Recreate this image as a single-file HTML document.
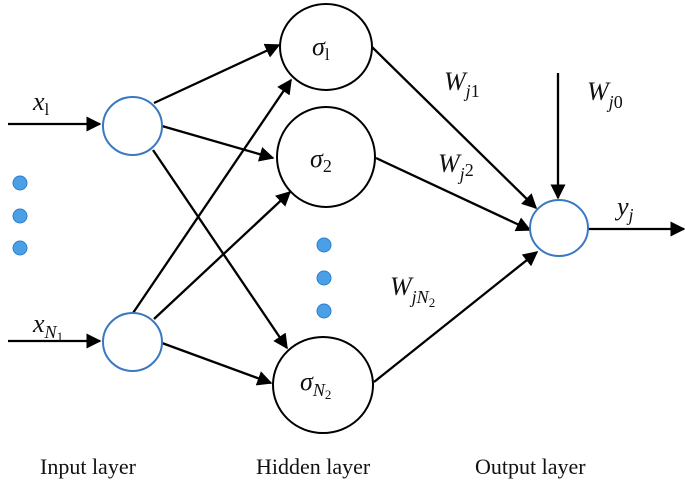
<!DOCTYPE html>
<html><head><meta charset="utf-8"><style>
html,body{margin:0;padding:0;background:#fff}
svg{display:block}
text{font-family:"Liberation Serif","DejaVu Serif",serif;fill:#111}
.i{font-style:italic}
</style></head><body>
<svg width="685" height="484" viewBox="0 0 685 484">
<defs>
<marker id="b" viewBox="0 0 10 10" refX="9" refY="5" markerWidth="15" markerHeight="15" markerUnits="userSpaceOnUse" orient="auto">
<path d="M0,0 L10,5 L0,10 z" fill="#000"/></marker>
</defs>
<g stroke="#000" stroke-width="2.3" fill="none" marker-end="url(#b)">
<line x1="8" y1="124" x2="100" y2="124"/>
<line x1="8" y1="341" x2="100" y2="341"/>
<line x1="588" y1="229" x2="684" y2="229"/>
<line x1="558" y1="73" x2="558" y2="198"/>
<line x1="154" y1="103" x2="279" y2="45"/>
<line x1="162" y1="126" x2="273" y2="158"/>
<line x1="153" y1="150" x2="287" y2="348"/>
<line x1="133" y1="313" x2="291" y2="80"/>
<line x1="154" y1="319" x2="290" y2="192"/>
<line x1="162" y1="343" x2="271" y2="383"/>
<line x1="372" y1="47" x2="536" y2="208"/>
<line x1="376" y1="158" x2="530" y2="230"/>
<line x1="374" y1="382" x2="537" y2="252"/>
</g>
<g fill="#fff" stroke-width="2">
<ellipse cx="132.5" cy="126" rx="29.5" ry="29" stroke="#3a78c0"/>
<ellipse cx="132.5" cy="342" rx="29.5" ry="29" stroke="#3a78c0"/>
<ellipse cx="559" cy="228" rx="29" ry="28" stroke="#3a78c0"/>
<ellipse cx="326" cy="47" rx="46" ry="43" stroke="#000"/>
<ellipse cx="326" cy="157" rx="49" ry="50" stroke="#000"/>
<ellipse cx="323" cy="385" rx="50" ry="48" stroke="#000"/>
</g>
<g fill="#4a9fe6" stroke="#2f7fcc" stroke-width="1">
<circle cx="20" cy="183" r="7"/><circle cx="20" cy="216" r="7"/><circle cx="20" cy="248" r="7"/>
<circle cx="324" cy="245" r="7"/><circle cx="324" cy="278" r="7"/><circle cx="324" cy="311" r="7"/>
</g>
<g font-size="26">
<text x="33" y="110" class="i">x<tspan font-size="17" dy="5" font-style="normal">l</tspan></text>
<text x="33" y="332" class="i">x<tspan font-size="18" dy="6">N</tspan><tspan font-size="13" dy="3" font-style="normal">1</tspan></text>
<text x="312" y="55" class="i">σ<tspan font-size="17" dy="5" font-style="normal">l</tspan></text>
<text x="310" y="167" class="i">σ<tspan font-size="18" dy="5" font-style="normal">2</tspan></text>
<text x="300" y="390" class="i">σ<tspan font-size="18" dy="6">N</tspan><tspan font-size="13" dy="3" font-style="normal">2</tspan></text>
<text x="444" y="90" class="i">W<tspan font-size="18" dy="7">j</tspan><tspan font-size="18" font-style="normal">1</tspan></text>
<text x="438" y="172" class="i">W<tspan font-size="18" dy="8">j</tspan><tspan font-size="18" font-style="normal" dy="-4">2</tspan></text>
<text x="587" y="100" class="i">W<tspan font-size="18" dy="8">j</tspan><tspan font-size="18" font-style="normal">0</tspan></text>
<text x="617" y="215" class="i">y<tspan font-size="18" dy="6">j</tspan></text>
<text x="390" y="295" class="i">W<tspan font-size="18" dy="8">jN</tspan><tspan font-size="13" dy="4" font-style="normal">2</tspan></text>
</g>
<g font-size="22">
<text x="40" y="474">Input layer</text>
<text x="256" y="474">Hidden layer</text>
<text x="475" y="474">Output layer</text>
</g>
</svg>
</body></html>
